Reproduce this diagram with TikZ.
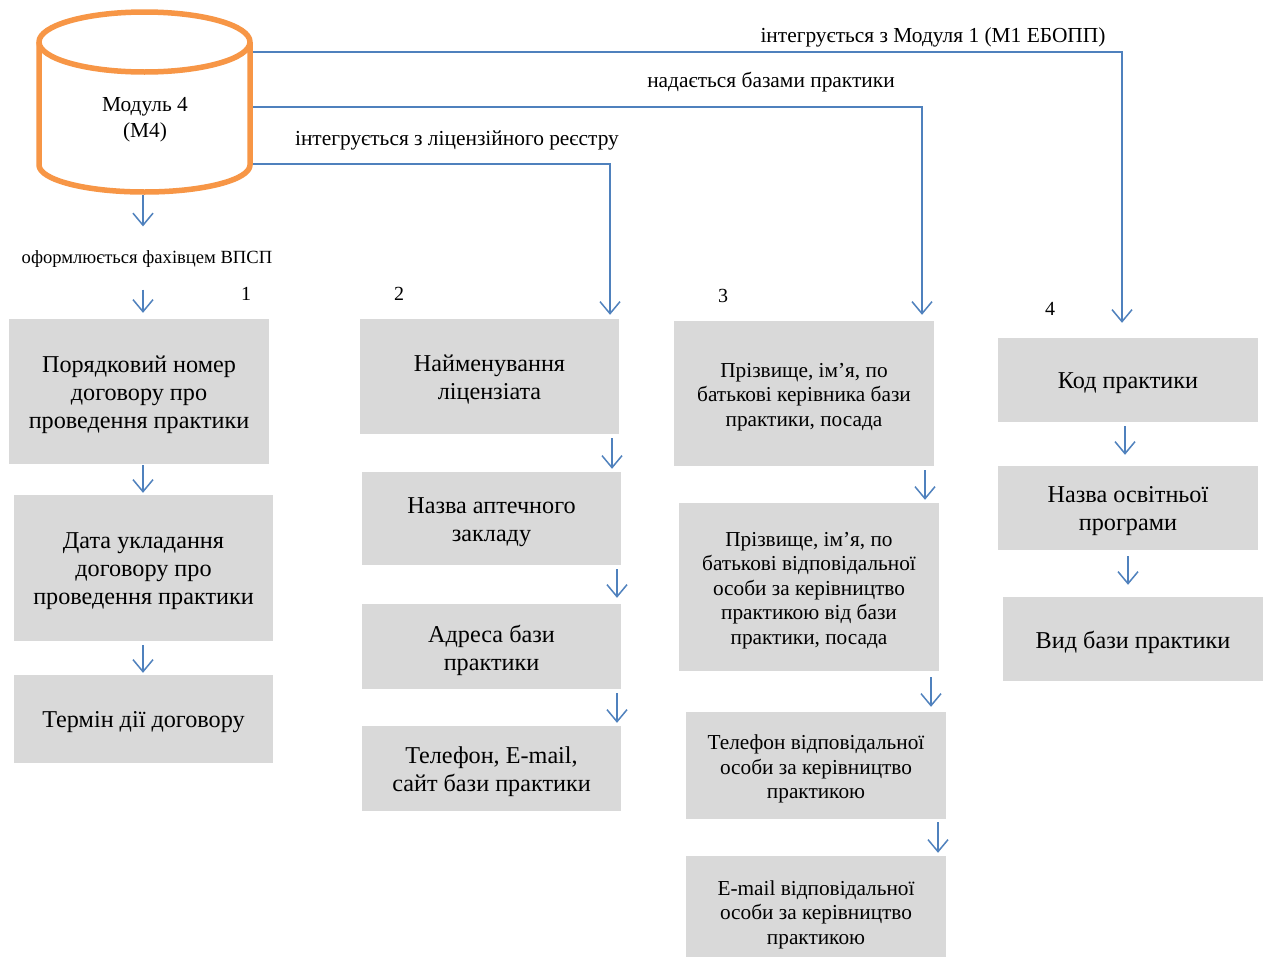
\documentclass[tikz,border=0pt]{standalone}
\usepackage{fontspec}
\setmainfont{Liberation Serif}
\usetikzlibrary{arrows.meta}
\definecolor{cylor}{HTML}{F79646}
\definecolor{lnblue}{HTML}{4F81BD}
\definecolor{boxgray}{HTML}{D9D9D9}
\begin{document}
\begin{tikzpicture}[x=1pt,y=-1pt,
 box/.style={fill=boxgray, inner sep=0pt},
 btxt/.style={inner sep=0pt, align=center, font=\fontsize{24.2}{28}\selectfont},
 stxt/.style={inner sep=0pt, align=center, font=\fontsize{21.3}{24.6}\selectfont},
 arr/.style={draw=lnblue, line width=1.5pt, -{Straight Barb[length=12pt,width=20pt,line width=1.5pt]}},
 stub/.style={arr, shorten <=4pt, shorten >=3pt},
 lbl/.style={font=\fontsize{21.4}{24}\selectfont, inner sep=0pt},
 slbl/.style={font=\fontsize{18.6}{20}\selectfont, inner sep=0pt},
 num/.style={font=\fontsize{20}{22}\selectfont, inner sep=0pt},
 cyl/.style={draw=cylor, line width=5.5pt, line join=round}]

\useasboundingbox[fill=white] (0,0) rectangle (1269,956);

% module node (frame for connectors)
\node[minimum width=211pt, minimum height=180pt, inner sep=0pt] (m4) at (144.5,102) {};

% column 1
\node[box, minimum width=260pt, minimum height=145pt] (a1) at (139,391.5) {};
\node[box, minimum width=259pt, minimum height=146pt] (a2) at (143.5,568) {};
\node[box, minimum width=259pt, minimum height=88pt] (a3) at (143.5,719) {};
\node[btxt] (a1t) at ([yshift=-3.5pt]a1.center) {Порядковий номер\\договору про\\проведення практики};
\node[btxt] (a2t) at ([yshift=-3.5pt]a2.center) {Дата укладання\\договору про\\проведення практики};
\node[btxt] (a3t) at ([yshift=-3.5pt]a3.center) {Термін дії договору};

% column 2
\node[box, minimum width=259pt, minimum height=115pt] (b1) at (489.5,376.5) {};
\node[box, minimum width=259pt, minimum height=93pt] (b2) at (491.5,518.5) {};
\node[box, minimum width=259pt, minimum height=85pt] (b3) at (491.5,646.5) {};
\node[box, minimum width=259pt, minimum height=85pt] (b4) at (491.5,768.5) {};
\node[btxt] (b1t) at ([yshift=-3.5pt]b1.center) {Найменування\\ліцензіата};
\node[btxt] (b2t) at ([yshift=-3.5pt]b2.center) {Назва аптечного\\закладу};
\node[btxt] (b3t) at ([yshift=-3.5pt]b3.center) {Адреса бази\\практики};
\node[btxt] (b4t) at ([yshift=-3.5pt]b4.center) {Телефон, E-mail,\\сайт бази практики};

% column 3
\node[box, minimum width=260pt, minimum height=145pt] (c1) at (804,393.5) {};
\node[box, minimum width=260pt, minimum height=168pt] (c2) at (809,587) {};
\node[box, minimum width=260pt, minimum height=107pt] (c3) at (816,765.5) {};
\node[box, minimum width=260pt, minimum height=110pt] (c4) at (816,911) {};
\node[stxt] (c1t) at ([yshift=-3.5pt]c1.center) {Прізвище, ім’я, по\\батькові керівника бази\\практики, посада};
\node[stxt] (c2t) at ([yshift=-3.5pt]c2.center) {Прізвище, ім’я, по\\батькові відповідальної\\особи за керівництво\\практикою від бази\\практики, посада};
\node[stxt] (c3t) at ([yshift=-3.5pt]c3.center) {Телефон відповідальної\\особи за керівництво\\практикою};
\node[stxt] (c4t) at ([yshift=-3.5pt]c4.center) {E-mail відповідальної\\особи за керівництво\\практикою};

% column 4
\node[box, minimum width=260pt, minimum height=84pt] (d1) at (1128,380) {};
\node[box, minimum width=260pt, minimum height=84pt] (d2) at (1128,508) {};
\node[box, minimum width=260pt, minimum height=84pt] (d3) at (1133,639) {};
\node[btxt] (d1t) at ([yshift=-3.5pt]d1.center) {Код практики};
\node[btxt] (d2t) at ([yshift=-3.5pt]d2.center) {Назва освітньої\\програми};
\node[btxt] (d3t) at ([yshift=-3.5pt]d3.center) {Вид бази практики};

% labels
\node[lbl] (l1) at (933,37) {інтегрується з Модуля 1 (М1 ЕБОПП)};
\node[lbl] (l2) at (771,82) {надається базами практики};
\node[lbl] (l3) at (457,140) {інтегрується з ліцензійного реєстру};
\node[slbl] (l0) at (147,259) {оформлюється фахівцем ВПСП};
\node[num] (n1) at (246,294) {1};
\node[num] (n2) at (399,294) {2};
\node[num] (n3) at (723,296) {3};
\node[num] (n4) at (1050,309) {4};

% connectors from module
\draw[arr, shorten >=15pt] (m4.east |- 0,52) -| (d1.north -| 1122,0);
\draw[arr, shorten >=6pt] (m4.east |- 0,107) -| (c1.north -| 922,0);
\draw[arr, shorten >=4pt] (m4.east |- 0,164) -| (b1.north -| 610,0);

% column 1 arrows
\draw[arr, shorten <=3pt, shorten >=24pt] (m4.south -| 143,0) -- (l0.north -| 143,0);
\draw[arr, shorten <=22pt, shorten >=6pt] (l0.south -| 143,0) -- (a1.north -| 143,0);
\draw[arr, shorten <=1pt, shorten >=2pt] (a1.south -| 143,0) -- (a2.north -| 143,0);
\draw[arr, shorten <=4pt, shorten >=2pt] (a2.south -| 143,0) -- (a3.north -| 143,0);

% column 2 arrows
\draw[stub] (b1.south -| 612,0) -- (b2.north -| 612,0);
\draw[stub, shorten >=6pt] (b2.south -| 617,0) -- (b3.north -| 617,0);
\draw[stub] (b3.south -| 617,0) -- (b4.north -| 617,0);

% column 3 arrows
\draw[stub] (c1.south -| 925,0) -- (c2.north -| 925,0);
\draw[stub, shorten <=6pt, shorten >=5pt] (c2.south -| 931,0) -- (c3.north -| 931,0);
\draw[stub, shorten <=3pt] (c3.south -| 938,0) -- (c4.north -| 938,0);

% column 4 arrows
\draw[stub, shorten >=11pt] (d1.south -| 1125,0) -- (d2.north -| 1125,0);
\draw[stub, shorten <=6pt, shorten >=12pt] (d2.south -| 1128,0) -- (d3.north -| 1128,0);

% cylinder
\fill[white] (39,42) -- (39,165) arc[start angle=180,end angle=360,x radius=105.5pt,y radius=27pt] -- (250,42) -- cycle;
\draw[cyl] (39,42) -- (39,165) arc[start angle=180,end angle=360,x radius=105.5pt,y radius=27pt] -- (250,42);
\draw[cyl, fill=white] (144.5,42) ellipse [x radius=105.5pt, y radius=30pt];
\node[lbl, align=center, font=\fontsize{21.4}{26}\selectfont] (m4t) at (145,120) {Модуль 4\\(М4)};
\end{tikzpicture}
\end{document}
